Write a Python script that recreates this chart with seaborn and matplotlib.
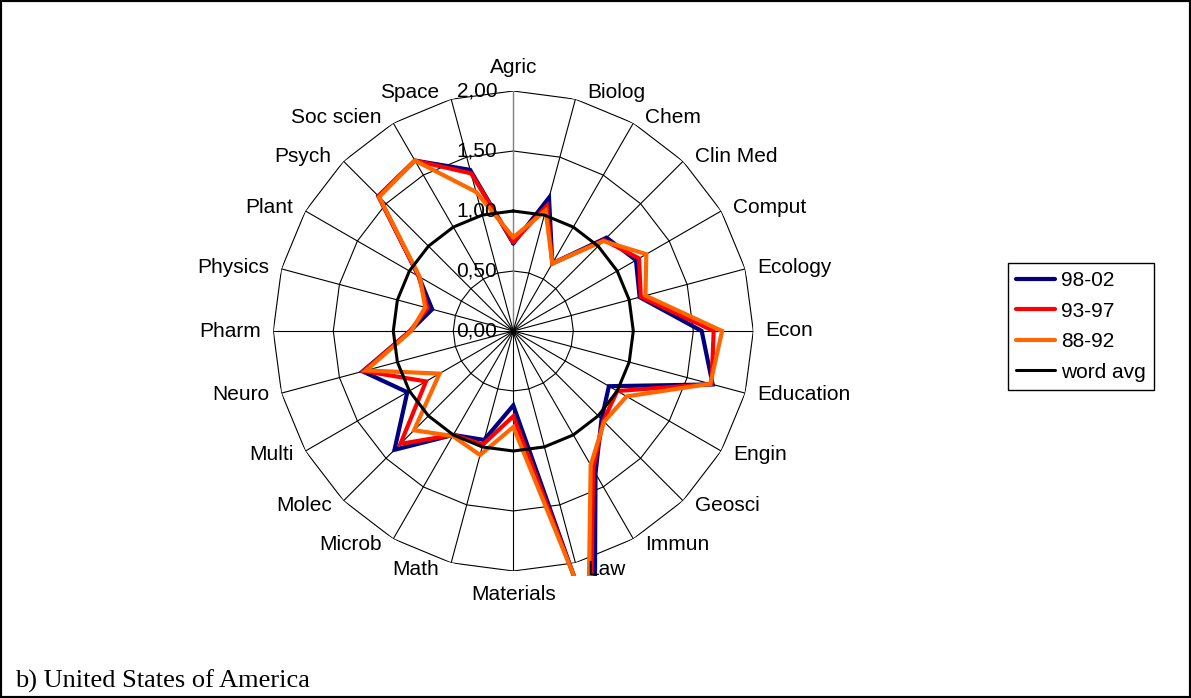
import numpy as np
import pandas as pd
import matplotlib
matplotlib.use("Agg")
import matplotlib.pyplot as plt
from matplotlib.patches import Rectangle
import seaborn as sns

# Categories (clockwise from top) and relative values per period
categories = ['Agric', 'Biolog', 'Chem', 'Clin Med', 'Comput', 'Ecology', 'Econ',
              'Education', 'Engin', 'Geosci', 'Immun', 'Law', 'Materials', 'Math',
              'Microb', 'Molec', 'Multi', 'Neuro', 'Pharm', 'Physics', 'Plant',
              'Psych', 'Soc scien', 'Space']
v_98_02 = [0.73, 1.15, 0.65, 1.10, 1.18, 1.09, 1.57, 1.72, 0.92, 1.04, 1.37, 2.62,
           0.62, 0.94, 1.00, 1.40, 1.02, 1.30, 0.86, 0.70, 0.91, 1.59, 1.64, 1.39]
v_93_97 = [0.74, 1.08, 0.65, 1.07, 1.21, 1.10, 1.67, 1.71, 1.00, 1.06, 1.33, 2.50,
           0.71, 0.98, 1.00, 1.33, 0.84, 1.29, 0.86, 0.74, 0.91, 1.59, 1.64, 1.36]
v_88_92 = [0.78, 1.04, 0.65, 1.06, 1.28, 1.14, 1.74, 1.70, 1.09, 1.07, 1.29, 2.42,
           0.80, 1.07, 1.01, 1.17, 0.71, 1.27, 0.85, 0.76, 0.90, 1.58, 1.64, 1.20]
word_avg = [1.00] * len(categories)
series_names = ['98-02', '93-97', '88-92', 'word avg']
ring_values = [0.0, 0.5, 1.0, 1.5, 2.0]
ring_labels = ['0,00', '0,50', '1,00', '1,50', '2,00']

sns.set_theme(style='white')
plt.rcParams['font.family'] = ['Liberation Sans', 'DejaVu Sans']
plt.rcParams['text.color'] = 'black'

W, H = 1191, 698
fig = plt.figure(figsize=(W / 100, H / 100), dpi=100)
cx, cy, R = 513.3, 331, 240
ax = fig.add_axes([(cx - R) / W, (H - cy - R) / H, 2 * R / W, 2 * R / H], projection='polar')
ax.set_theta_offset(np.pi / 2)
ax.set_theta_direction(-1)
ax.set_ylim(0, 2.0)
ax.grid(False)
ax.spines['polar'].set_visible(False)
ax.set_xticks([])
ax.set_yticks([])
ax.patch.set_alpha(0)

n = len(categories)
angles = np.arange(n) * 2 * np.pi / n
closed = np.append(angles, angles[0] + 2 * np.pi)

# polygon gridlines and spokes
for r in ring_values[1:]:
    ax.plot(closed, [r] * (n + 1), color='black', lw=0.8, zorder=1)
for i, a in enumerate(angles):
    ax.plot([a, a], [0, 2.0], color='gray' if i == 0 else 'black',
            lw=1.0 if i == 0 else 0.8, zorder=1)

# data series
clip = Rectangle((0, 1 - 576 / H), 1, 576 / H, transform=fig.transFigure)
data = {'98-02': v_98_02, '93-97': v_93_97, '88-92': v_88_92, 'word avg': word_avg}
colors = {'98-02': '#000080', '93-97': '#FF0000', '88-92': '#FF6600', 'word avg': 'black'}
widths = {'98-02': 3.0, '93-97': 3.0, '88-92': 3.0, 'word avg': 2.2}
for name in series_names:
    vals = np.append(data[name], data[name][0])
    df = pd.DataFrame({'theta': closed, 'value': vals})
    sns.lineplot(x=df['theta'].values, y=df['value'].values, ax=ax, sort=False,
                 estimator=None, color=colors[name], lw=widths[name], label=name,
                 zorder=3)
    line = ax.lines[-1]
    line.set_solid_joinstyle('miter')
    line.set_clip_path(clip)
if ax.get_legend() is not None:
    ax.get_legend().remove()
ax.set_xlabel('')
ax.set_ylabel('')

# value labels along the first spoke
for r, lab in zip(ring_values, ring_labels):
    ax.annotate(lab, xy=(0, r), xytext=(-16, 0), textcoords='offset pixels',
                ha='right', va='center', fontsize=15, color='black',
                annotation_clip=False, zorder=4)

# category labels
for a, name in zip(angles, categories):
    s, c = np.sin(a), np.cos(a)
    if abs(s) < 0.01:
        ha = 'center'
        va = 'bottom' if c > 0 else 'top'
        off = (0, 14 if c > 0 else -14)
    else:
        ha = 'left' if s > 0 else 'right'
        va = 'center'
        off = (12 * np.sign(s), 7 * c)
    ax.annotate(name, xy=(a, 2.0), xytext=off, textcoords='offset pixels',
                ha=ha, va=va, fontsize=15, color='black', annotation_clip=False)

handles, labels = ax.get_legend_handles_labels()
leg = fig.legend(handles, labels, loc='upper left',
                 bbox_to_anchor=(1008 / W, 1 - 263 / H), fontsize=15,
                 frameon=True, fancybox=False, edgecolor='black', framealpha=1,
                 handlelength=1.85, handletextpad=0.3, labelspacing=0.55,
                 borderpad=0.4, borderaxespad=0, labelcolor='black')
leg.get_frame().set_linewidth(1.0)

fig.text(15 / W, 1 - 688 / H, 'b) United States of America', fontsize=19,
         family=['Liberation Serif', 'DejaVu Serif'], va='baseline', ha='left',
         color='black')
fig.patches.append(Rectangle((0, 0), 1, 1, transform=fig.transFigure, fill=False,
                             ec='black', lw=3))

fig.savefig('out.png', dpi=100)
